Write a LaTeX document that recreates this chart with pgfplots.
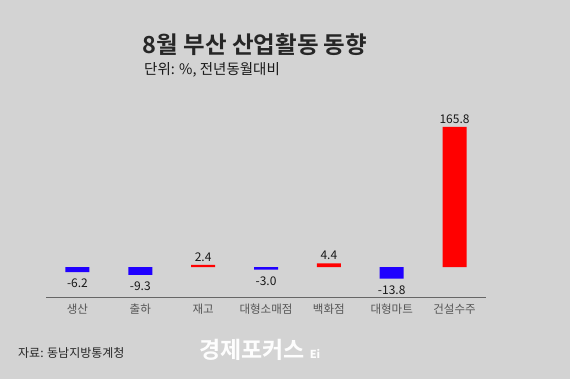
\documentclass[border=0pt]{standalone}
\usepackage{pgfplots}
\pgfplotsset{compat=1.18}
\usepackage{fontspec}
\setmainfont{Noto Sans CJK KR}
\newfontfamily\kb{Noto Sans CJK KR}[BoldFont={* Bold}]
\definecolor{bg}{RGB}{211,211,211}
\definecolor{bblue}{RGB}{32,0,255}
\definecolor{rred}{RGB}{255,0,0}
\definecolor{tick}{RGB}{85,85,85}
\begin{document}
\begin{tikzpicture}
\fill[bg] (0pt,0pt) rectangle (570pt,379pt);
\useasboundingbox (0pt,0pt) rectangle (570pt,379pt);
\node[font=\kb\bfseries\fontsize{23.5}{27}\selectfont, text=black!85] at (255pt,334pt) {8월 부산 산업활동 동향};
\node[anchor=west, font=\fontsize{14.5}{16}\selectfont, text=black!90, inner sep=0pt] at (144pt,309pt) {단위: \%, 전년동월대비};
\node[anchor=west, font=\fontsize{12}{14}\selectfont, text=black!85, inner sep=0pt] at (18pt,26pt) {자료: 동남지방통계청};
\node[font=\kb\bfseries\fontsize{23}{26}\selectfont, text=white!96!bg, inner sep=0pt] at (252pt,29pt) {경제포커스};
\node[font=\bfseries\fontsize{11}{12}\selectfont, text=white!96!bg, inner sep=0pt] at (315pt,25pt) {Ei};
\begin{axis}[
  at={(46pt,82pt)}, anchor=south west,
  scale only axis, width=440pt, height=198.9pt,
  xmin=-0.5, xmax=6.5, ymin=-35.5, ymax=200,
  axis y line=none, axis x line*=bottom,
  x axis line style={draw=gray!80!black, line width=0.6pt, -},
  xtick={0,1,2,3,4,5,6},
  xticklabels={생산,출하,재고,대형소매점,백화점,대형마트,건설수주},
  xtick style={draw=none},
  xticklabel style={font=\fontsize{11.5}{13}\selectfont, text=tick, yshift=1pt},
  ybar, bar width=24pt, bar shift=0pt,
  nodes near coords,
  every node near coord/.append style={font=\fontsize{12}{14}\selectfont, text=black!90},
  /pgf/number format/.cd, fixed, fixed zerofill, precision=1, assume math mode=true,
]
\addplot[fill=bblue, draw=none, every node near coord/.append style={yshift=-3.5pt}] coordinates {(0,-6.2) (1,-9.3) (3,-3.0) (5,-13.8)};
\addplot[fill=rred, draw=none] coordinates {(2,2.4) (4,4.4) (6,165.8)};
\end{axis}
\end{tikzpicture}
\end{document}
